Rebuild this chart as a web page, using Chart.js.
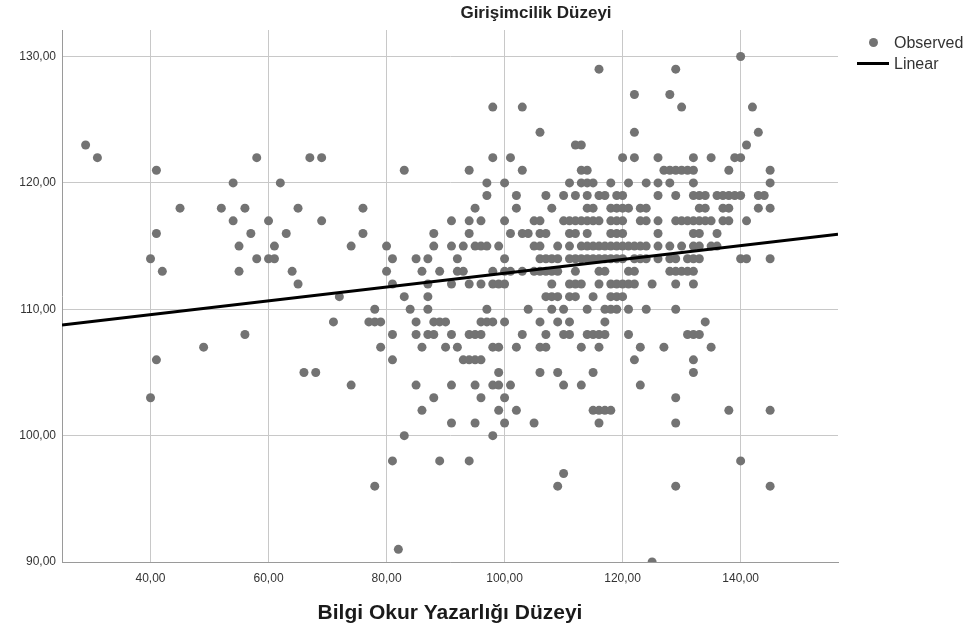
<!DOCTYPE html>
<html lang="tr">
<head>
<meta charset="utf-8">
<title>Girişimcilik Düzeyi</title>
<script src="https://cdn.jsdelivr.net/npm/chart.js@4.4.1/dist/chart.umd.min.js"></script>
<style>
  html, body { margin: 0; padding: 0; background: #fff; }
  #wrap { position: relative; width: 968px; height: 637px; font-family: "Liberation Sans", Arial, sans-serif; color: #222; }
  #chart { position: absolute; left: 0; top: 0; }
  .title { position: absolute; left: 0; width: 1072px; top: 3px; text-align: center; font-size: 17px; font-weight: bold; }
  .legend { position: absolute; left: 854px; top: 32px; font-size: 16px; color: #333; line-height: 21px; }
  .legend div { position: relative; padding-left: 40px; }
  .dot { position: absolute; left: 15px; top: 6px; width: 9px; height: 9px; border-radius: 50%; background: #737373; }
  .bar { position: absolute; left: 3px; top: 9px; width: 32px; height: 3px; background: #000; }
</style>
</head>
<body>
<div id="wrap">
  <canvas id="chart" width="968" height="637"></canvas>
  <div class="title">Girişimcilik Düzeyi</div>
  <div class="legend">
    <div><span class="dot"></span>Observed</div>
    <div><span class="bar"></span>Linear</div>
  </div>
</div>
<script>
// Girişimcilik düzeyi (y) levels, each with the bilgi okur yazarlığı scores (x) seen at that level
const levels = [130, 129, 127, 126, 124, 123, 122, 121, 120, 119, 118, 117, 116, 115, 114, 113, 112,
    111, 110, 109, 108, 107, 106, 105, 104, 103, 102, 101, 100, 98, 97, 96, 91, 90];

const scoresAtLevel = [
    [140],
    [116, 129],
    [122, 128],
    [98, 103, 130, 142],
    [106, 122, 143],
    [29, 112, 113, 141],
    [31, 58, 67, 69, 98, 101, 120, 122, 126, 132, 135, 139, 140],
    [41, 83, 94, 103, 113, 114, 127, 128, 129, 130, 131, 132, 138, 145],
    [54, 62, 97, 100, 111, 113, 114, 115, 118, 121, 124, 126, 128, 132, 145],
    [97, 102, 107, 110, 112, 114, 116, 117, 119, 120, 126, 129, 132, 133, 134, 136, 137, 138, 139, 140, 143, 144],
    [45, 52, 56, 65, 76, 95, 102, 108, 114, 115, 118, 119, 120, 121, 123, 124, 133, 134, 137, 138, 143, 145],
    [54, 60, 69, 91, 94, 96, 100, 105, 106, 110, 111, 112, 113, 114, 115, 116, 118, 119, 120, 123, 124, 126,
        129, 130, 131, 132, 133, 134, 135, 137, 138, 141],
    [41, 57, 63, 76, 88, 94, 101, 103, 104, 106, 107, 111, 112, 114, 118, 119, 120, 126, 132, 133, 136],
    [55, 61, 74, 80, 88, 91, 93, 95, 96, 97, 99, 105, 106, 109, 111, 113, 114, 115, 116, 117, 118, 119, 120,
        121, 122, 123, 124, 126, 128, 130, 132, 133, 135, 136],
    [40, 58, 60, 61, 81, 85, 87, 92, 100, 106, 107, 108, 109, 111, 112, 113, 114, 115, 116, 117, 118, 119, 120,
        122, 123, 124, 126, 128, 129, 131, 132, 133, 140, 141, 145],
    [42, 55, 64, 80, 86, 89, 92, 93, 98, 100, 101, 103, 105, 106, 107, 108, 109, 112, 116, 117, 121, 122, 128,
        129, 130, 131, 132],
    [65, 81, 87, 91, 94, 96, 98, 99, 100, 108, 111, 112, 113, 116, 118, 119, 120, 121, 122, 125, 129, 132],
    [72, 83, 87, 107, 108, 109, 111, 112, 115, 118, 119, 120],
    [78, 84, 87, 97, 104, 108, 110, 114, 117, 118, 119, 121, 124, 129],
    [71, 77, 78, 79, 85, 88, 89, 90, 96, 97, 98, 100, 106, 109, 111, 117, 134],
    [56, 81, 85, 87, 88, 91, 94, 95, 96, 103, 107, 110, 111, 114, 115, 116, 117, 121, 131, 132, 133],
    [49, 79, 86, 90, 92, 98, 99, 102, 106, 107, 113, 116, 123, 127, 135],
    [41, 81, 93, 94, 95, 96, 122, 132],
    [66, 68, 99, 106, 109, 115, 132],
    [74, 85, 91, 95, 98, 99, 101, 110, 113, 123],
    [40, 88, 96, 100, 129],
    [86, 99, 102, 115, 116, 117, 118, 138, 145],
    [91, 95, 100, 105, 116, 129],
    [83, 98],
    [81, 89, 94, 140],
    [110],
    [78, 109, 129, 145],
    [82],
    [125]
];

// Fitted linear line, read at the plot edges
const fitX = [25, 156.5];
const fitY = [108.76, 115.94];

const xTicks = [40, 60, 80, 100, 120, 140];
const yTicks = [90, 100, 110, 120, 130];

const observed = [];
levels.forEach((lvl, i) => {
    scoresAtLevel[i].forEach(s => observed.push({ x: s, y: lvl }));
});
const linear = fitX.map((x, i) => ({ x: x, y: fitY[i] }));

const fmt = v => v.toFixed(2).replace('.', ',');
const tickFont = { family: '"Liberation Sans", Arial, sans-serif', size: 12 };

new Chart(document.getElementById('chart').getContext('2d'), {
    type: 'scatter',
    data: {
        datasets: [
            {
                label: 'Linear',
                type: 'line',
                data: linear,
                borderColor: '#000',
                borderWidth: 3,
                pointRadius: 0,
                fill: false
            },
            {
                label: 'Observed',
                data: observed,
                pointRadius: 4.5,
                pointBackgroundColor: '#737373',
                pointBorderWidth: 0
            }
        ]
    },
    options: {
        responsive: false,
        animation: false,
        devicePixelRatio: 1,
        layout: { padding: { top: 30, right: 130, left: 0, bottom: 0 } },
        plugins: {
            legend: { display: false },
            tooltip: { enabled: false }
        },
        scales: {
            x: {
                type: 'linear',
                min: 25,
                max: 156.5,
                afterFit: s => { s.height = 75; },
                afterBuildTicks: s => { s.ticks = xTicks.map(v => ({ value: v })); },
                grid: { color: '#c8c8c8', drawTicks: false },
                border: { color: '#9a9a9a' },
                ticks: { color: '#333', font: tickFont, padding: 9, callback: fmt, maxRotation: 0 },
                title: {
                    display: true,
                    text: 'Bilgi Okur Yazarlığı Düzeyi',
                    color: '#1a1a1a',
                    font: { family: '"Liberation Sans", Arial, sans-serif', size: 21, weight: 'bold' },
                    padding: { top: 0, bottom: 11 }
                }
            },
            y: {
                min: 90,
                max: 132.1,
                afterFit: s => { s.width = 62; },
                afterBuildTicks: s => { s.ticks = yTicks.map(v => ({ value: v })); },
                grid: { color: '#c8c8c8', drawTicks: false },
                border: { color: '#9a9a9a' },
                ticks: { color: '#333', font: tickFont, padding: 6, callback: fmt }
            }
        }
    }
});
</script>
</body>
</html>
